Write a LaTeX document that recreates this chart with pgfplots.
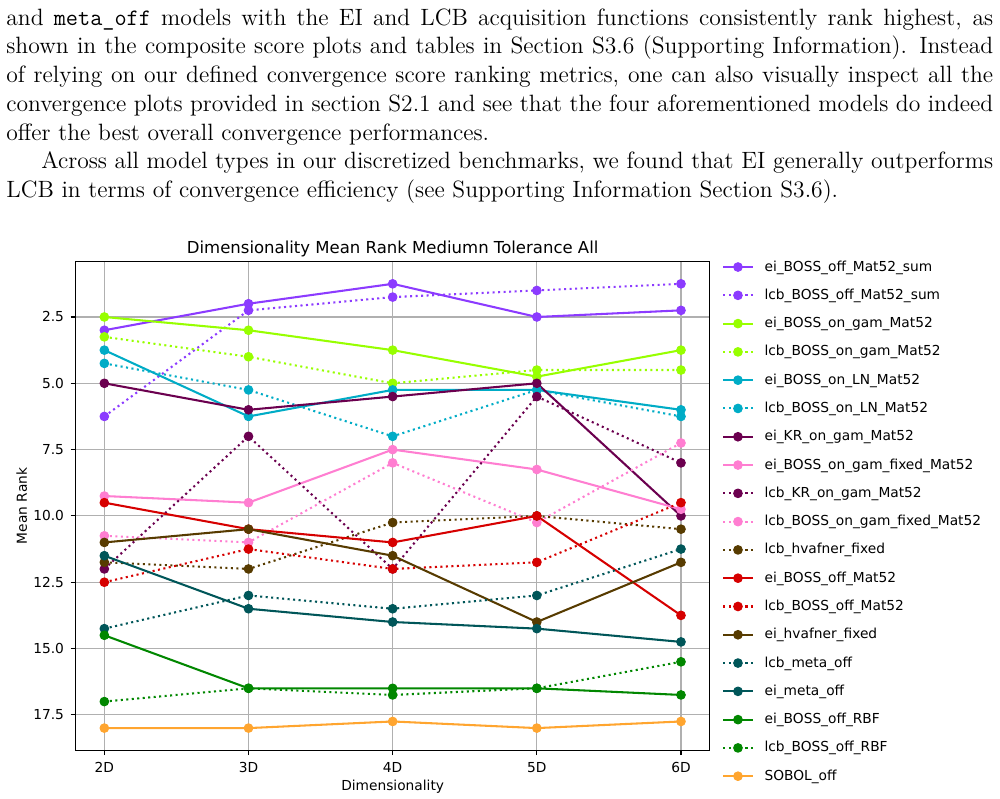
\documentclass[border=0pt]{standalone}
\usepackage{fontspec}
\usepackage{pgfplots}
\pgfplotsset{compat=1.18}
\newfontfamily\dejavu{DejaVu Sans}

% glasbey palette
\definecolor{cPurple}{HTML}{8C3BFF}
\definecolor{cLime}{HTML}{97FF00}
\definecolor{cCyan}{HTML}{00ACC6}
\definecolor{cPlum}{HTML}{6B004F}
\definecolor{cPink}{HTML}{FF7ED1}
\definecolor{cBrown}{HTML}{573B00}
\definecolor{cRed}{HTML}{D60000}
\definecolor{cTeal}{HTML}{005659}
\definecolor{cGreen}{HTML}{018700}
\definecolor{cOrange}{HTML}{FFA52F}

\pgfplotsset{
  sol/.style={color=#1, line width=1.05pt, line join=round, mark=*, mark size=2.2pt,
              mark options={solid, fill=#1, draw=#1, line width=0.5pt}},
  dot/.style={sol=#1, dash pattern=on 1.05pt off 1.75pt},
}

\begin{document}
\begin{tikzpicture}
\path[use as bounding box] (0,0) rectangle (508.7pt,-406.4pt);

\node[anchor=north west, inner sep=0pt, text width=502pt, align=justify,
      font=\fontsize{12}{14.6}\selectfont] at (3.05pt,-2.4pt) {\strut and \texttt{meta\_off} models with the EI and LCB acquisition functions consistently rank highest, as\linebreak
shown in the composite score plots and tables in Section S3.6 (Supporting Information). Instead\linebreak
of relying on our defined convergence score ranking metrics, one can also visually inspect all the\linebreak
convergence plots provided in section S2.1 and see that the four aforementioned models do indeed\linebreak
offer the best overall convergence performances.\par
\hspace*{17.8pt}Across all model types in our discretized benchmarks, we found that EI generally outperforms\linebreak
LCB in terms of convergence efficiency (see Supporting Information Section S3.6).};

\begin{axis}[
  at={(38.41pt,-133.08pt)}, anchor=north west,
  scale only axis, width=322.67pt, height=248.6pt,
  xmin=-0.2, xmax=4.2, ymin=0.4125, ymax=18.8375, y dir=reverse,
  xtick={0,1,2,3,4}, xticklabels={2D,3D,4D,5D,6D},
  ytick={2.5,5,7.5,10,12.5,15,17.5},
  /pgf/number format/assume math mode=true,
  tick label style={font=\dejavu\fontsize{7}{8.4}\selectfont},
  xticklabel style={anchor=base, inner sep=0pt, yshift=-8.59pt},
  yticklabel style={anchor=east, inner sep=0pt, xshift=-3.25pt,
    /pgf/number format/fixed, /pgf/number format/fixed zerofill, /pgf/number format/precision=1},
  grid=major, grid style={color=black!31, line width=0.56pt},
  axis line style={line width=0.56pt},
  tick align=outside, major tick length=2.45pt, tick style={line width=0.56pt, black},
  tick pos=left,
  title={Dimensionality Mean Rank Mediumn Tolerance All},
  title style={font=\dejavu\fontsize{8.4}{10}\selectfont, at={(axis description cs:0.5,1)}, anchor=base, yshift=-1.63pt},
  xlabel={Dimensionality},
  xlabel style={font=\dejavu\fontsize{7}{8.4}\selectfont, at={(axis description cs:0.5,0)}, anchor=base, yshift=-20.3pt},
  ylabel={Mean Rank},
  ylabel style={font=\dejavu\fontsize{7}{8.4}\selectfont, at={([xshift=-24.7pt]axis description cs:0,0.5)}, anchor=base},
  legend style={at={(axis description cs:1,1)}, anchor=north west, xshift=6.2pt, yshift=1pt,
                draw=none, fill=none, inner sep=0pt,
                font=\dejavu\fontsize{7}{8.4}\selectfont,
                row sep=7.29pt, column sep=5.6pt,
                nodes={inner sep=0pt, text height=5.6pt, text depth=1.5pt}},
  legend cell align=left,
  legend image code/.code={\draw[mark repeat=2, mark phase=2, #1] plot coordinates {(0pt,0pt) (7.4pt,0pt) (14.8pt,0pt)};},
]
\addplot[sol=cPurple] coordinates {(0,3.0) (1,2.0) (2,1.25) (3,2.5) (4,2.25)};
\addlegendentry{ei\_BOSS\_off\_Mat52\_sum}
\addplot[dot=cPurple] coordinates {(0,6.25) (1,2.25) (2,1.75) (3,1.5) (4,1.25)};
\addlegendentry{lcb\_BOSS\_off\_Mat52\_sum}
\addplot[sol=cLime] coordinates {(0,2.5) (1,3.0) (2,3.75) (3,4.75) (4,3.75)};
\addlegendentry{ei\_BOSS\_on\_gam\_Mat52}
\addplot[dot=cLime] coordinates {(0,3.25) (1,4.0) (2,5.0) (3,4.5) (4,4.5)};
\addlegendentry{lcb\_BOSS\_on\_gam\_Mat52}
\addplot[sol=cCyan] coordinates {(0,3.75) (1,6.25) (2,5.25) (3,5.25) (4,6.0)};
\addlegendentry{ei\_BOSS\_on\_LN\_Mat52}
\addplot[dot=cCyan] coordinates {(0,4.25) (1,5.25) (2,7.0) (3,5.25) (4,6.25)};
\addlegendentry{lcb\_BOSS\_on\_LN\_Mat52}
\addplot[sol=cPlum] coordinates {(0,5.0) (1,6.0) (2,5.5) (3,5.0) (4,10.0)};
\addlegendentry{ei\_KR\_on\_gam\_Mat52}
\addplot[sol=cPink] coordinates {(0,9.25) (1,9.5) (2,7.5) (3,8.25) (4,9.75)};
\addlegendentry{ei\_BOSS\_on\_gam\_fixed\_Mat52}
\addplot[dot=cPlum] coordinates {(0,12.0) (1,7.0) (2,12.0) (3,5.5) (4,8.0)};
\addlegendentry{lcb\_KR\_on\_gam\_Mat52}
\addplot[dot=cPink] coordinates {(0,10.75) (1,11.0) (2,8.0) (3,10.25) (4,7.25)};
\addlegendentry{lcb\_BOSS\_on\_gam\_fixed\_Mat52}
\addplot[dot=cBrown] coordinates {(0,11.75) (1,12.0) (2,10.25) (3,10.0) (4,10.5)};
\addlegendentry{lcb\_hvafner\_fixed}
\addplot[sol=cRed] coordinates {(0,9.5) (1,10.5) (2,11.0) (3,10.0) (4,13.75)};
\addlegendentry{ei\_BOSS\_off\_Mat52}
\addplot[dot=cRed] coordinates {(0,12.5) (1,11.25) (2,12.0) (3,11.75) (4,9.5)};
\addlegendentry{lcb\_BOSS\_off\_Mat52}
\addplot[sol=cBrown] coordinates {(0,11.0) (1,10.5) (2,11.5) (3,14.0) (4,11.75)};
\addlegendentry{ei\_hvafner\_fixed}
\addplot[dot=cTeal] coordinates {(0,14.25) (1,13.0) (2,13.5) (3,13.0) (4,11.25)};
\addlegendentry{lcb\_meta\_off}
\addplot[sol=cTeal] coordinates {(0,11.5) (1,13.5) (2,14.0) (3,14.25) (4,14.75)};
\addlegendentry{ei\_meta\_off}
\addplot[sol=cGreen] coordinates {(0,14.5) (1,16.5) (2,16.5) (3,16.5) (4,16.75)};
\addlegendentry{ei\_BOSS\_off\_RBF}
\addplot[dot=cGreen] coordinates {(0,17.0) (1,16.5) (2,16.75) (3,16.5) (4,15.5)};
\addlegendentry{lcb\_BOSS\_off\_RBF}
\addplot[sol=cOrange] coordinates {(0,18.0) (1,18.0) (2,17.75) (3,18.0) (4,17.75)};
\addlegendentry{SOBOL\_off}
\end{axis}
\end{tikzpicture}
\end{document}
